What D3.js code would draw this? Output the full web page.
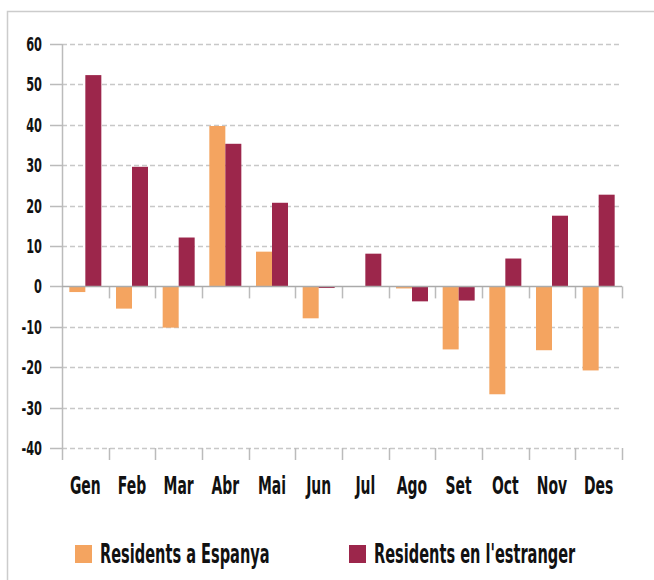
<!DOCTYPE html>
<html lang="ca">
<head>
<meta charset="UTF-8"/>
<title>Residents</title>
<script src="https://d3js.org/d3.v7.min.js"></script>
<style>
  body { margin: 0; background: #fff; }
  text { font-family: "DejaVu Sans Condensed", "Liberation Sans Narrow", sans-serif; font-weight: bold; fill: #111; }
</style>
</head>
<body>
<script>
    var months = ["Gen", "Feb", "Mar", "Abr", "Mai", "Jun", "Jul", "Ago", "Set", "Oct", "Nov", "Des"];
    var seriesNames = ["Residents a Espanya", "Residents en l'estranger"];
    var espanya = [-1.4, -5.5, -10.2, 39.7, 8.6, -7.9, 0, -0.5, -15.6, -26.7, -15.8, -20.8];
    var estranger = [52.3, 29.6, 12.1, 35.3, 20.7, -0.4, 8.1, -3.7, -3.5, 6.9, 17.5, 22.7];
    var yTicks = [60, 50, 40, 30, 20, 10, 0, -10, -20, -30, -40];
    var colors = ["#f4a460", "#9c264b"];

    var w = 654, h = 580;
    var plotLeft = 62, plotRight = 622, plotTop = 44, plotBottom = 448;

    var svg = d3.select("body").append("svg")
        .attr("width", w)
        .attr("height", h);

    // frame
    svg.append("path")
        .attr("d", "M7.5," + h + "V11.5H" + w)
        .attr("fill", "none")
        .attr("stroke", "#ccc")
        .attr("stroke-width", 1.5);

    var x = d3.scaleBand().domain(months).range([plotLeft, plotRight]);
    var x1 = d3.scaleBand().domain([0, 1]).range([x.bandwidth() / 2 - 16, x.bandwidth() / 2 + 16]);
    var y = d3.scaleLinear().domain([-40, 60]).range([plotBottom, plotTop]);

    // grid lines
    svg.selectAll(".grid")
        .data(yTicks.filter(function(d) { return d !== 0; }))
        .enter()
        .append("line")
        .attr("x1", plotLeft)
        .attr("x2", plotRight)
        .attr("y1", function(d) { return Math.round(y(d)) + 0.5; })
        .attr("y2", function(d) { return Math.round(y(d)) + 0.5; })
        .attr("stroke", "#c8c8c8")
        .attr("stroke-width", 1.5)
        .attr("stroke-dasharray", "5,3");

    // y tick marks
    svg.selectAll(".ytick")
        .data(yTicks)
        .enter()
        .append("line")
        .attr("x1", 50)
        .attr("x2", plotLeft)
        .attr("y1", function(d) { return Math.round(y(d)) + 0.5; })
        .attr("y2", function(d) { return Math.round(y(d)) + 0.5; })
        .attr("stroke", "#bbb")
        .attr("stroke-width", 1.5);

    // y tick labels
    svg.selectAll(".ylab")
        .data(yTicks)
        .enter()
        .append("text")
        .attr("transform", function(d) { return "translate(42," + (y(d) + 7) + ") scale(0.63,1)"; })
        .attr("text-anchor", "end")
        .attr("font-size", "20px")
        .text(function(d) { return d; });

    // y axis line
    svg.append("line")
        .attr("x1", plotLeft + 0.5).attr("x2", plotLeft + 0.5)
        .attr("y1", plotTop).attr("y2", plotBottom + 12)
        .attr("stroke", "#bbb")
        .attr("stroke-width", 1.5);

    // category ticks at zero and bottom
    var bounds = months.map(function(m) { return x(m) + x.bandwidth(); });
    [y(0), plotBottom].forEach(function(yy) {
        svg.selectAll(null)
            .data(bounds)
            .enter()
            .append("line")
            .attr("x1", function(d) { return Math.round(d) + 0.5; })
            .attr("x2", function(d) { return Math.round(d) + 0.5; })
            .attr("y1", yy)
            .attr("y2", yy + 12)
            .attr("stroke", "#bbb")
            .attr("stroke-width", 1.5);
    });

    // bars
    var groups = svg.selectAll(".month")
        .data(months)
        .enter()
        .append("g")
        .attr("transform", function(d) { return "translate(" + x(d) + ",0)"; });

    [espanya, estranger].forEach(function(series, s) {
        groups.append("rect")
            .attr("x", x1(s))
            .attr("width", x1.bandwidth())
            .attr("y", function(d, i) { return y(Math.max(0, series[i])); })
            .attr("height", function(d, i) { return Math.abs(y(series[i]) - y(0)); })
            .attr("fill", colors[s]);
    });

    // zero line
    svg.append("line")
        .attr("x1", plotLeft).attr("x2", plotRight)
        .attr("y1", Math.round(y(0)) + 0.5).attr("y2", Math.round(y(0)) + 0.5)
        .attr("stroke", "#aaa")
        .attr("stroke-width", 1.5);

    // month labels
    svg.selectAll(".xlab")
        .data(months)
        .enter()
        .append("text")
        .attr("transform", function(d) { return "translate(" + (x(d) + x.bandwidth() / 2) + ",494) scale(0.62,1)"; })
        .attr("text-anchor", "middle")
        .attr("font-size", "25px")
        .text(function(d) { return d; });

    // legend
    var legendX = [75, 349];
    seriesNames.forEach(function(name, s) {
        svg.append("rect")
            .attr("x", legendX[s])
            .attr("y", 545)
            .attr("width", 17)
            .attr("height", 18)
            .attr("fill", colors[s]);
        svg.append("text")
            .attr("transform", "translate(" + (legendX[s] + 25) + ",563) scale(0.6,1)")
            .attr("font-size", "27px")
            .text(name);
    });
</script>
</body>
</html>
